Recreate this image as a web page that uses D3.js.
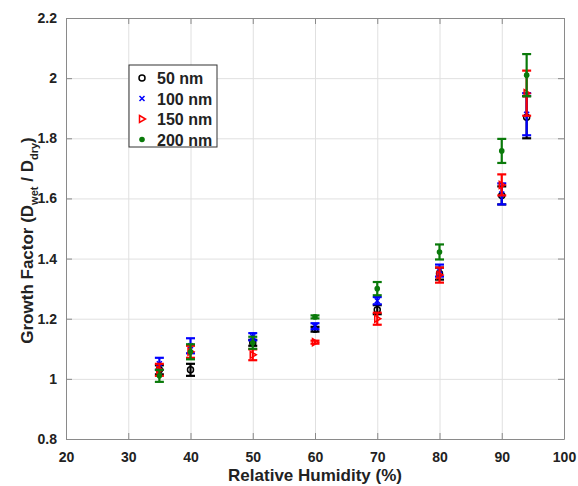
<!DOCTYPE html>
<html>
<head>
<meta charset="utf-8">
<script src="https://cdn.jsdelivr.net/npm/d3@7"></script>
<style>
  body { margin: 0; background: #fff; }
  text { font-family: "Liberation Sans", Arial, sans-serif; font-weight: bold; fill: #222; }
</style>
</head>
<body>
<div id="chart"></div>
<script>
// relative humidity steps (%)
const rh = [35, 40, 50, 60, 70, 80, 90, 94];

// growth factor means and error half-widths, per dry size
const gf50  = [1.03, 1.03, 1.12, 1.165, 1.23, 1.35, 1.61, 1.87];
const err50 = [0.015, 0.02, 0.01, 0.008, 0.015, 0.02, 0.03, 0.07];
const gf100  = [1.05, 1.11, 1.14, 1.175, 1.26, 1.36, 1.615, 1.88];
const err100 = [0.02, 0.025, 0.012, 0.01, 0.012, 0.02, 0.035, 0.07];
const gf150  = [1.03, 1.09, 1.08, 1.122, 1.20, 1.345, 1.645, 1.95];
const err150 = [0.02, 0.02, 0.018, 0.005, 0.02, 0.025, 0.035, 0.075];
const gf200  = [1.01, 1.09, 1.12, 1.206, 1.30, 1.422, 1.758, 2.01];
const err200 = [0.02, 0.025, 0.02, 0.005, 0.022, 0.025, 0.04, 0.07];

const sizeLabels = ["50 nm", "100 nm", "150 nm", "200 nm"];
const xTicks = [20, 30, 40, 50, 60, 70, 80, 90, 100];
const yTicks = [0.8, 1, 1.2, 1.4, 1.6, 1.8, 2, 2.2];

const series = [
  { name: sizeLabels[0], vals: gf50,  errs: err50,  color: "#000000", shape: "circle" },
  { name: sizeLabels[1], vals: gf100, errs: err100, color: "#0000ff", shape: "x" },
  { name: sizeLabels[2], vals: gf150, errs: err150, color: "#ff0000", shape: "tri" },
  { name: sizeLabels[3], vals: gf200, errs: err200, color: "#0a7a0a", shape: "dot" }
];

const W = 578, H = 486;
const margin = { top: 18, right: 14, bottom: 47, left: 66 };
const width = W - margin.left - margin.right;
const height = H - margin.top - margin.bottom;

const svg = d3.select("#chart").append("svg")
  .attr("width", W)
  .attr("height", H);

const g = svg.append("g")
  .attr("transform", "translate(" + margin.left + "," + margin.top + ")");

const x = d3.scaleLinear().domain([20, 100]).range([0, width]);
const y = d3.scaleLinear().domain([0.8, 2.2]).range([height, 0]);

// gridlines
g.append("g")
  .attr("class", "grid")
  .attr("transform", "translate(0," + height + ")")
  .call(d3.axisBottom(x).tickValues(xTicks).tickSize(-height).tickFormat(""))
  .call(s => s.selectAll("line").attr("stroke", "#e0e0e0"))
  .call(s => s.select(".domain").remove());

g.append("g")
  .attr("class", "grid")
  .call(d3.axisLeft(y).tickValues(yTicks).tickSize(-width).tickFormat(""))
  .call(s => s.selectAll("line").attr("stroke", "#e0e0e0"))
  .call(s => s.select(".domain").remove());

// axes, ticks pointing inward on all sides
const styleAxis = s => {
  s.select(".domain").attr("stroke", "#8a8a8a");
  s.selectAll(".tick line").attr("stroke", "#8a8a8a");
  s.selectAll("text").attr("fill", "#222").style("font-size", "14px");
};

g.append("g")
  .attr("transform", "translate(0," + height + ")")
  .call(d3.axisBottom(x).tickValues(xTicks).tickSize(-6).tickSizeOuter(0).tickPadding(13))
  .call(styleAxis);

g.append("g")
  .call(d3.axisTop(x).tickValues(xTicks).tickSize(-6).tickSizeOuter(0).tickFormat(""))
  .call(styleAxis);

g.append("g")
  .call(d3.axisLeft(y).tickValues(yTicks).tickSize(-6).tickSizeOuter(0).tickPadding(9).tickFormat(d3.format("~g")))
  .call(styleAxis);

g.append("g")
  .attr("transform", "translate(" + width + ",0)")
  .call(d3.axisRight(y).tickValues(yTicks).tickSize(-6).tickSizeOuter(0).tickFormat(""))
  .call(styleAxis);

// axis titles
g.append("text")
  .attr("x", width / 2)
  .attr("y", height + 42)
  .attr("text-anchor", "middle")
  .style("font-size", "17px")
  .text("Relative Humidity (%)");

const yTitle = g.append("text")
  .attr("transform", "translate(" + (-33) + "," + (height / 2 + 12) + ") rotate(-90)")
  .attr("text-anchor", "middle")
  .style("font-size", "17px");
yTitle.append("tspan").text("Growth Factor (D");
yTitle.append("tspan").attr("dy", 5).style("font-size", "11px").text("wet");
yTitle.append("tspan").attr("dy", -5).text(" / D");
yTitle.append("tspan").attr("dy", 5).style("font-size", "11px").text("dry");
yTitle.append("tspan").attr("dy", -5).text(")");

// marker drawing
function drawMarker(sel, shape, color) {
  if (shape === "circle") {
    sel.append("circle").attr("r", 3).attr("fill", "none").attr("stroke", color).attr("stroke-width", 1.5);
  } else if (shape === "x") {
    sel.append("path").attr("d", "M-2.5,-2.5L2.5,2.5M-2.5,2.5L2.5,-2.5")
      .attr("stroke", color).attr("stroke-width", 1.5);
  } else if (shape === "tri") {
    sel.append("path").attr("d", "M-2.5,-3.5L3.5,0L-2.5,3.5Z")
      .attr("fill", "none").attr("stroke", color).attr("stroke-width", 1.5);
  } else {
    sel.append("circle").attr("r", 2.8).attr("fill", color);
  }
}

// error bars and markers
series.forEach(s => {
  const grp = g.append("g");
  const pts = rh.map((r, i) => ({ r: r, v: s.vals[i], e: s.errs[i] }));
  const bars = grp.selectAll(".eb").data(pts).enter().append("g")
    .attr("transform", d => "translate(" + x(d.r) + ",0)");
  bars.append("line")
    .attr("y1", d => y(d.v - d.e)).attr("y2", d => y(d.v + d.e))
    .attr("stroke", s.color).attr("stroke-width", 2.2);
  bars.append("line")
    .attr("x1", -4.5).attr("x2", 4.5)
    .attr("y1", d => y(d.v - d.e)).attr("y2", d => y(d.v - d.e))
    .attr("stroke", s.color).attr("stroke-width", 2.2);
  bars.append("line")
    .attr("x1", -4.5).attr("x2", 4.5)
    .attr("y1", d => y(d.v + d.e)).attr("y2", d => y(d.v + d.e))
    .attr("stroke", s.color).attr("stroke-width", 2.2);
  const marks = grp.selectAll(".mk").data(pts).enter().append("g")
    .attr("transform", d => "translate(" + x(d.r) + "," + y(d.v) + ")");
  drawMarker(marks, s.shape, s.color);
});

// legend
const lg = svg.append("g").attr("transform", "translate(129,65)");
lg.append("rect")
  .attr("width", 88).attr("height", 82)
  .attr("fill", "#fff").attr("stroke", "#333").attr("stroke-width", 1);
series.forEach((s, i) => {
  const row = lg.append("g").attr("transform", "translate(0," + (13 + i * 20.5) + ")");
  const m = row.append("g").attr("transform", "translate(13,0)");
  drawMarker(m, s.shape, s.color);
  row.append("text")
    .attr("x", 28).attr("y", 6)
    .style("font-size", "16px")
    .text(s.name);
});
</script>
</body>
</html>
